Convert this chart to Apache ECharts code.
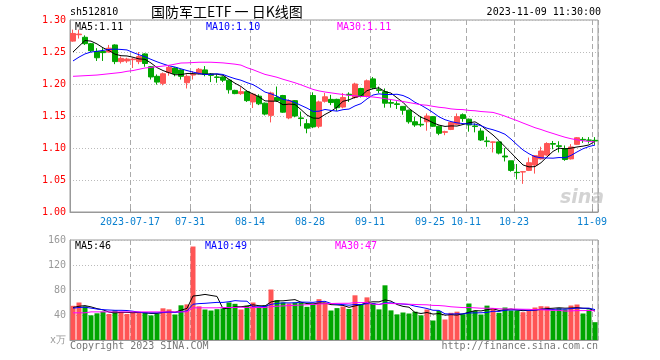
<!DOCTYPE html>
<html><head><meta charset="utf-8">
<script src="https://cdn.jsdelivr.net/npm/echarts/dist/echarts.min.js"></script>
<style>html,body{margin:0;padding:0;background:#fff}#c{width:660px;height:360px}</style>
</head><body><div id="c"></div>
<script>
// ---- data ----
const dates = [
"07-03","07-04","07-05","07-06","07-07","07-10","07-11","07-12","07-13","07-14",
"07-17","07-18","07-19","07-20","07-21","07-24","07-25","07-26","07-27","07-28",
"07-31","08-01","08-02","08-03","08-04","08-07","08-08","08-09","08-10","08-11",
"08-14","08-15","08-16","08-17","08-18","08-21","08-22","08-23","08-24","08-25",
"08-28","08-29","08-30","08-31","09-01","09-04","09-05","09-06","09-07","09-08",
"09-11","09-12","09-13","09-14","09-15","09-18","09-19","09-20","09-21","09-22",
"09-25","09-26","09-27","09-28","10-09","10-10","10-11","10-12","10-13","10-16",
"10-17","10-18","10-19","10-20","10-23","10-24","10-25","10-26","10-27","10-30",
"10-31","11-01","11-02","11-03","11-06","11-07","11-08","11-09"];
const tickDates = ["07-17","07-31","08-14","08-28","09-11","09-25","10-11","10-23","11-09"];
const tickTexts = ["2023-07-17","07-31","08-14","08-28","09-11","09-25","10-11","10-23","11-09"];

const opens = [1.267,1.277,1.273,1.263,1.251,1.251,1.250,1.261,1.235,1.236,
1.238,1.235,1.247,1.227,1.212,1.201,1.218,1.225,1.222,1.202,
1.214,1.217,1.222,1.2155,1.211,1.211,1.206,1.190,1.185,1.188,
1.172,1.181,1.170,1.151,1.179,1.182,1.147,1.174,1.147,1.138,
1.182,1.134,1.173,1.176,1.176,1.164,1.184,1.179,1.193,1.181,
1.208,1.191,1.188,1.171,1.169,1.165,1.159,1.141,1.137,1.141,
1.149,1.134,1.1245,1.129,1.137,1.152,1.145,1.1345,1.1265,1.111,
1.109,1.1095,1.0875,1.080,1.062,1.0625,1.065,1.0734,1.083,1.089,
1.107,1.1035,1.099,1.083,1.1057,1.1135,1.1125,1.112];
const closes = [1.279,1.278,1.263,1.252,1.241,1.249,1.256,1.235,1.240,1.239,
1.239,1.243,1.232,1.211,1.203,1.216,1.226,1.216,1.212,1.212,
1.215,1.223,1.215,1.2135,1.2103,1.206,1.191,1.185,1.188,1.174,
1.184,1.169,1.153,1.186,1.174,1.156,1.174,1.150,1.146,1.131,
1.133,1.172,1.180,1.171,1.163,1.179,1.183,1.200,1.181,1.205,
1.194,1.190,1.170,1.170,1.168,1.159,1.141,1.136,1.136,1.150,
1.134,1.123,1.1255,1.140,1.149,1.146,1.136,1.1335,1.1125,1.110,
1.1095,1.092,1.086,1.065,1.0615,1.063,1.077,1.088,1.0953,1.107,
1.106,1.1025,1.082,1.1016,1.116,1.1125,1.112,1.111];
const lows = [1.266,1.271,1.261,1.250,1.236,1.236,1.249,1.231,1.232,1.233,
1.225,1.231,1.227,1.207,1.199,1.198,1.213,1.212,1.207,1.193,
1.207,1.215,1.212,1.203,1.202,1.203,1.185,1.184,1.183,1.172,
1.1625,1.167,1.151,1.140,1.172,1.155,1.145,1.148,1.134,1.123,
1.131,1.131,1.171,1.167,1.158,1.162,1.172,1.177,1.179,1.179,
1.192,1.186,1.163,1.163,1.161,1.152,1.138,1.133,1.133,1.127,
1.133,1.120,1.120,1.128,1.136,1.141,1.1255,1.1245,1.111,1.102,
1.093,1.090,1.079,1.063,1.051,1.044,1.064,1.060,1.082,1.088,
1.098,1.093,1.080,1.082,1.105,1.108,1.107,1.105];
const highs = [1.285,1.285,1.276,1.264,1.256,1.256,1.261,1.262,1.243,1.241,
1.241,1.250,1.248,1.228,1.215,1.218,1.229,1.226,1.223,1.215,
1.220,1.225,1.228,1.217,1.215,1.212,1.207,1.191,1.195,1.190,
1.186,1.184,1.171,1.188,1.196,1.183,1.176,1.175,1.157,1.145,
1.187,1.174,1.186,1.183,1.177,1.186,1.187,1.202,1.194,1.207,
1.211,1.196,1.193,1.1766,1.173,1.165,1.160,1.149,1.150,1.154,
1.150,1.135,1.127,1.141,1.154,1.154,1.146,1.1385,1.131,1.1177,
1.110,1.110,1.100,1.080,1.075,1.064,1.085,1.089,1.102,1.109,
1.111,1.1105,1.104,1.106,1.117,1.117,1.117,1.117];
const volumes = [54.7,60,54,39.5,42.7,45.3,41.6,47.4,44.8,41.6,
43.2,44.2,44.2,39.4,42.1,50.7,49,40.8,55.5,57,
149.6,53.9,48.8,47.2,49.3,50.4,60,57.9,48.8,54.7,
60,53.1,55.7,80.8,63.7,60,58.4,60,60,53.1,
57.3,65.3,60,47.2,51,53.5,49.6,71.5,57.3,68.2,
59,49,87.5,47.4,41,44,42.4,45.3,39.5,48.8,
31.2,46.5,32.8,43.5,45.3,41.3,58.4,46.7,40.8,55,
49.9,43.5,52,47.2,47.2,44.5,47.2,52,54.1,53.6,
47.2,50.9,48.8,55.2,56.8,42.4,48.8,28.5];

// moving-average values at the start of the window (they depend on days before the chart)
const ma5Head = [1.250,1.259,1.268,1.267];
const ma10Head = [1.236,1.242,1.247,1.250,1.251,1.2525,1.254,1.2545,1.254];
const ma30Head = [1.212,1.2125,1.213,1.2135,1.214,1.215,1.216,1.217,1.218,1.2198,1.221,1.223,1.225,1.226,1.227,1.228,1.2292,1.231,1.2328,1.233,1.2335,1.234,1.234,1.234,1.2335,1.233,1.232,1.231,1.2295];
const volMa5Head = [52,54,55,53];
const volMa10Head = [51,52,52.5,51,49.5,48.5,48,47.5,47.5];
const volMa30Head = [43.5,43.5,43.5,45,45,45,45,45,45,45,45,45,45,45,45,45,45,45,45,45,51.5,51.5,51.5,51.5,51.5,52,52,52,52.5];

const maTexts = ["MA5:1.11","MA10:1.10","MA30:1.11"];
const volMaTexts = ["MA5:46","MA10:49","MA30:47"];

// ---- build ----
function movAvg(arr, n, head) {
  return arr.map((_, i) => {
    if (i < n - 1) return head[i];
    let s = 0; for (let k = i - n + 1; k <= i; k++) s += arr[k];
    return +(s / n).toFixed(4);
  });
}
const RED = '#ff5555', GREEN = '#00a600';
const tickIdx = tickDates.map(d => dates.indexOf(d));
const isTick = i => tickIdx.indexOf(i) >= 0;
const MONO = 'DejaVu Sans Mono';

const kData = dates.map((d, i) => [opens[i], closes[i], lows[i], highs[i]]);
const vData = volumes.map((v, i) => ({value: v, itemStyle: {color: closes[i] >= opens[i] ? RED : GREEN}}));

const gridLine = {lineStyle: {color: '#999', width: 1}};
const dashSplit = {show: true, interval: (i) => isTick(i), lineStyle: {color: '#aaa', type: [5, 3], width: 1}};
const dotSplit = {show: true, lineStyle: {color: '#bbb', type: [1, 2], width: 1}};

function lineSeries(data, color, xi) {
  return {type: 'line', data, xAxisIndex: xi, yAxisIndex: xi, symbol: 'none', silent: true,
    lineStyle: {width: 1, color}, itemStyle: {color}, z: 5};
}

const chart = echarts.init(document.getElementById('c'), null, {renderer: 'canvas'});
chart.setOption({
  animation: false,
  backgroundColor: '#fff',
  grid: [
    {left: 70, top: 20, width: 528, height: 192, show: true, borderColor: '#999', borderWidth: 1},
    {left: 70, top: 240, width: 528, height: 100, show: true, borderColor: '#999', borderWidth: 1}
  ],
  xAxis: [
    {type: 'category', gridIndex: 0, data: dates, boundaryGap: true,
      axisLine: gridLine,
      axisTick: {show: true, inside: true, length: 3, interval: (i) => isTick(i), lineStyle: {color: '#999'}},
      axisLabel: {interval: (i) => isTick(i), formatter: (v) => tickTexts[tickDates.indexOf(v)],
        color: '#0a80d0', fontFamily: MONO, fontSize: 10, margin: 5, padding: [0, 6, 0, 0]},
      splitLine: dashSplit},
    {type: 'category', gridIndex: 1, data: dates, boundaryGap: true,
      axisLine: gridLine, axisTick: {show: false}, axisLabel: {show: false},
      splitLine: dashSplit}
  ],
  yAxis: [
    {type: 'value', gridIndex: 0, min: 1.0, max: 1.3, interval: 0.05,
      axisLine: {show: true, lineStyle: {color: '#999'}}, axisTick: {show: false},
      axisLabel: {color: '#ff0000', fontFamily: MONO, fontSize: 10, margin: 4, formatter: v => v.toFixed(2)},
      splitLine: dotSplit},
    {type: 'value', gridIndex: 1, min: 0, max: 160, interval: 40,
      axisLine: {show: true, lineStyle: {color: '#999'}}, axisTick: {show: false},
      axisLabel: {color: '#999', fontFamily: MONO, fontSize: 10, margin: 4, formatter: v => v === 0 ? 'x万' : String(v)},
      splitLine: dotSplit}
  ],
  series: [
    {type: 'candlestick', xAxisIndex: 0, yAxisIndex: 0, data: kData, barWidth: 5, silent: true,
      itemStyle: {color: RED, color0: GREEN, borderColor: RED, borderColor0: GREEN, borderWidth: 1}},
    lineSeries(movAvg(closes, 5, ma5Head), '#000000', 0),
    lineSeries(movAvg(closes, 10, ma10Head), '#0000ff', 0),
    lineSeries(movAvg(closes, 30, ma30Head), '#ff00ff', 0),
    {type: 'bar', xAxisIndex: 1, yAxisIndex: 1, data: vData, barWidth: 5, silent: true},
    lineSeries(movAvg(volumes, 5, volMa5Head), '#000000', 1),
    lineSeries(movAvg(volumes, 10, volMa10Head), '#0000ff', 1),
    lineSeries(movAvg(volumes, 30, volMa30Head), '#ff00ff', 1)
  ],
  graphic: [
    {type: 'text', x: 70, y: 12, style: {text: 'sh512810', font: '10px ' + MONO, fill: '#000', textVerticalAlign: 'middle'}},
    {type: 'text', x: 151, y: 12, style: {text: '国防军工ETF 一 日K线图', font: '14px "Noto Sans CJK SC"', fill: '#000', textVerticalAlign: 'middle'}},
    {type: 'text', x: 601, y: 12, style: {text: '2023-11-09 11:30:00', font: '10px ' + MONO, fill: '#000', textAlign: 'right', textVerticalAlign: 'middle'}},
    {type: 'text', x: 75, y: 27, z: 10, style: {text: maTexts[0], font: '10px ' + MONO, fill: '#000', textVerticalAlign: 'middle'}},
    {type: 'text', x: 206, y: 27, z: 10, style: {text: maTexts[1], font: '10px ' + MONO, fill: '#0000ff', textVerticalAlign: 'middle'}},
    {type: 'text', x: 337, y: 27, z: 10, style: {text: maTexts[2], font: '10px ' + MONO, fill: '#ff00ff', textVerticalAlign: 'middle'}},
    {type: 'text', x: 75, y: 246, z: 10, style: {text: volMaTexts[0], font: '10px ' + MONO, fill: '#000', textVerticalAlign: 'middle'}},
    {type: 'text', x: 205, y: 246, z: 10, style: {text: volMaTexts[1], font: '10px ' + MONO, fill: '#0000ff', textVerticalAlign: 'middle'}},
    {type: 'text', x: 335, y: 246, z: 10, style: {text: volMaTexts[2], font: '10px ' + MONO, fill: '#ff00ff', textVerticalAlign: 'middle'}},
    {type: 'text', x: 70, y: 346, style: {text: 'Copyright 2023 SINA.COM', font: '10px ' + MONO, fill: '#777', textVerticalAlign: 'middle'}},
    {type: 'text', x: 598, y: 346, style: {text: 'http://finance.sina.com.cn', font: '10px ' + MONO, fill: '#777', textAlign: 'right', textVerticalAlign: 'middle'}},
    {type: 'text', x: 582, y: 198, z: 1, style: {text: 'sina', font: 'italic bold 19px "DejaVu Sans"', fill: 'rgba(175,175,175,0.55)', textAlign: 'center', textVerticalAlign: 'middle'}}
  ]
});
</script>
</body></html>
